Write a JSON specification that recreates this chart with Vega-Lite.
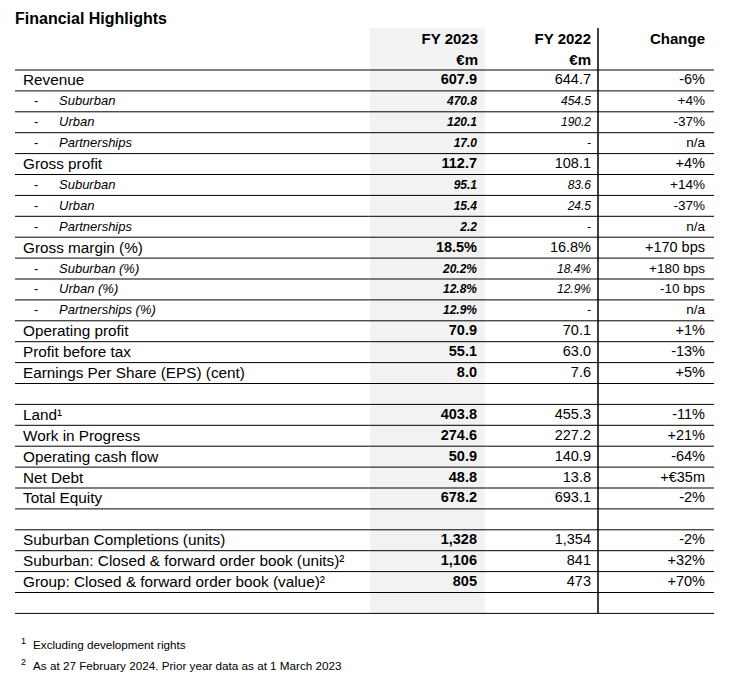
{
  "$schema": "https://vega.github.io/schema/vega-lite/v6.json",
  "padding": {"left": 14, "top": 7.3, "right": 22, "bottom": 5.9},
  "bounds": "flush",
  "background": "white",
  "config": {"view": {"stroke": null}, "text": {"font": "Liberation Sans", "color": "#000000", "baseline": "middle"}, "concat": {"spacing": 0}},
  "data": {"values": [
    {"r": 0, "t": "title", "label": "Financial Highlights"},
    {"r": 1, "t": "head", "v23": "FY 2023", "v22": "FY 2022", "chg": "Change"},
    {"r": 2, "t": "head", "v23": "€m", "v22": "€m", "chg": ""},
    {"r": 3, "t": "main", "label": "Revenue", "v23": "607.9", "v22": "644.7", "chg": "-6%"},
    {"r": 4, "t": "sub", "label": "Suburban", "v23": "470.8", "v22": "454.5", "chg": "+4%"},
    {"r": 5, "t": "sub", "label": "Urban", "v23": "120.1", "v22": "190.2", "chg": "-37%"},
    {"r": 6, "t": "sub", "label": "Partnerships", "v23": "17.0", "v22": "-", "chg": "n/a"},
    {"r": 7, "t": "main", "label": "Gross profit", "v23": "112.7", "v22": "108.1", "chg": "+4%"},
    {"r": 8, "t": "sub", "label": "Suburban", "v23": "95.1", "v22": "83.6", "chg": "+14%"},
    {"r": 9, "t": "sub", "label": "Urban", "v23": "15.4", "v22": "24.5", "chg": "-37%"},
    {"r": 10, "t": "sub", "label": "Partnerships", "v23": "2.2", "v22": "-", "chg": "n/a"},
    {"r": 11, "t": "main", "label": "Gross margin (%)", "v23": "18.5%", "v22": "16.8%", "chg": "+170 bps"},
    {"r": 12, "t": "sub", "label": "Suburban (%)", "v23": "20.2%", "v22": "18.4%", "chg": "+180 bps"},
    {"r": 13, "t": "sub", "label": "Urban (%)", "v23": "12.8%", "v22": "12.9%", "chg": "-10 bps"},
    {"r": 14, "t": "sub", "label": "Partnerships (%)", "v23": "12.9%", "v22": "-", "chg": "n/a"},
    {"r": 15, "t": "main", "label": "Operating profit", "v23": "70.9", "v22": "70.1", "chg": "+1%"},
    {"r": 16, "t": "main", "label": "Profit before tax", "v23": "55.1", "v22": "63.0", "chg": "-13%"},
    {"r": 17, "t": "main", "label": "Earnings Per Share (EPS) (cent)", "v23": "8.0", "v22": "7.6", "chg": "+5%"},
    {"r": 18, "t": "blank"},
    {"r": 19, "t": "main", "label": "Land¹", "v23": "403.8", "v22": "455.3", "chg": "-11%"},
    {"r": 20, "t": "main", "label": "Work in Progress", "v23": "274.6", "v22": "227.2", "chg": "+21%"},
    {"r": 21, "t": "main", "label": "Operating cash flow", "v23": "50.9", "v22": "140.9", "chg": "-64%"},
    {"r": 22, "t": "main", "label": "Net Debt", "v23": "48.8", "v22": "13.8", "chg": "+€35m"},
    {"r": 23, "t": "main", "label": "Total Equity", "v23": "678.2", "v22": "693.1", "chg": "-2%"},
    {"r": 24, "t": "blank"},
    {"r": 25, "t": "main", "label": "Suburban Completions (units)", "v23": "1,328", "v22": "1,354", "chg": "-2%"},
    {"r": 26, "t": "main", "label": "Suburban: Closed & forward order book (units)²", "v23": "1,106", "v22": "841", "chg": "+32%"},
    {"r": 27, "t": "main", "label": "Group: Closed & forward order book (value)²", "v23": "805", "v22": "473", "chg": "+70%"},
    {"r": 28, "t": "blank"},
    {"r": 29, "t": "gap"},
    {"r": 30, "t": "note", "sup": "1", "label": "Excluding development rights"},
    {"r": 31, "t": "note", "sup": "2", "label": "As at 27 February 2024. Prior year data as at 1 March 2023"}
  ]},
  "resolve": {"scale": {"y": "shared", "x": "independent"}},
  "spacing": 0,
  "hconcat": [
    {
      "width": 355, "height": 668.8,
      "encoding": {"y": {"field": "r", "type": "ordinal", "scale": {"type": "band", "domain": [0,1,2,3,4,5,6,7,8,9,10,11,12,13,14,15,16,17,18,19,20,21,22,23,24,25,26,27,28,29,30,31], "paddingInner": 0, "paddingOuter": 0}, "axis": null}},
      "layer": [
        {"transform": [{"filter": "datum.r >= 2 && datum.r <= 28"}], "mark": {"type": "rule", "color": "#000000", "strokeWidth": 1},
         "encoding": {"y": {"field": "r", "type": "ordinal", "bandPosition": 1}}},
        {"transform": [{"filter": "datum.t == 'title'"}], "mark": {"type": "text", "align": "left", "fontSize": 16, "fontWeight": "bold", "dy": 1},
         "encoding": {"x": {"datum": 0, "type": "quantitative", "scale": {"domain": [0, 1]}, "axis": null}, "text": {"field": "label"}}},
        {"transform": [{"filter": "datum.t == 'main'"}], "mark": {"type": "text", "align": "left", "fontSize": 15.3, "dx": 8},
         "encoding": {"x": {"datum": 0, "type": "quantitative"}, "text": {"field": "label"}}},
        {"transform": [{"filter": "datum.t == 'sub'"}], "mark": {"type": "text", "align": "left", "fontSize": 13, "dx": 19},
         "encoding": {"x": {"datum": 0, "type": "quantitative"}, "text": {"value": "-"}}},
        {"transform": [{"filter": "datum.t == 'sub'"}], "mark": {"type": "text", "align": "left", "fontSize": 13, "fontStyle": "italic", "dx": 44},
         "encoding": {"x": {"datum": 0, "type": "quantitative"}, "text": {"field": "label"}}},
        {"transform": [{"filter": "datum.t == 'note'"}], "mark": {"type": "text", "align": "left", "fontSize": 9, "dx": 6, "dy": -4},
         "encoding": {"x": {"datum": 0, "type": "quantitative"}, "text": {"field": "sup"}}},
        {"transform": [{"filter": "datum.t == 'note'"}], "mark": {"type": "text", "align": "left", "fontSize": 11.7, "dx": 18},
         "encoding": {"x": {"datum": 0, "type": "quantitative"}, "text": {"field": "label"}}}
      ]
    },
    {
      "width": 115, "height": 668.8,
      "encoding": {"y": {"field": "r", "type": "ordinal", "scale": {"type": "band", "paddingInner": 0, "paddingOuter": 0}, "axis": null}},
      "layer": [
        {"transform": [{"filter": "datum.r >= 1 && datum.r <= 28"}], "mark": {"type": "rect", "color": "#f2f2f2"},
         "encoding": {"y": {"field": "r", "type": "ordinal"}}},
        {"transform": [{"filter": "datum.r >= 2 && datum.r <= 28"}], "mark": {"type": "rule", "color": "#000000", "strokeWidth": 1},
         "encoding": {"y": {"field": "r", "type": "ordinal", "bandPosition": 1}}},
        {"transform": [{"filter": "datum.t == 'head'"}], "mark": {"type": "text", "align": "right", "fontSize": 15, "fontWeight": "bold", "dx": -7},
         "encoding": {"x": {"datum": 1, "type": "quantitative", "scale": {"domain": [0, 1]}, "axis": null}, "text": {"field": "v23"}}},
        {"transform": [{"filter": "datum.t == 'main'"}], "mark": {"type": "text", "align": "right", "fontSize": 14.5, "fontWeight": "bold", "dx": -8},
         "encoding": {"x": {"datum": 1, "type": "quantitative"}, "text": {"field": "v23"}}},
        {"transform": [{"filter": "datum.t == 'sub'"}], "mark": {"type": "text", "align": "right", "fontSize": 12, "fontWeight": "bold", "fontStyle": "italic", "dx": -8},
         "encoding": {"x": {"datum": 1, "type": "quantitative"}, "text": {"field": "v23"}}}
      ]
    },
    {
      "width": 113, "height": 668.8,
      "encoding": {"y": {"field": "r", "type": "ordinal", "scale": {"type": "band", "paddingInner": 0, "paddingOuter": 0}, "axis": null}},
      "layer": [
        {"transform": [{"filter": "datum.r >= 2 && datum.r <= 28"}], "mark": {"type": "rule", "color": "#000000", "strokeWidth": 1},
         "encoding": {"y": {"field": "r", "type": "ordinal", "bandPosition": 1}}},
        {"transform": [{"filter": "datum.t == 'head'"}], "mark": {"type": "text", "align": "right", "fontSize": 15, "fontWeight": "bold", "dx": -7},
         "encoding": {"x": {"datum": 1, "type": "quantitative", "scale": {"domain": [0, 1]}, "axis": null}, "text": {"field": "v22"}}},
        {"transform": [{"filter": "datum.t == 'main'"}], "mark": {"type": "text", "align": "right", "fontSize": 14.5, "dx": -7},
         "encoding": {"x": {"datum": 1, "type": "quantitative"}, "text": {"field": "v22"}}},
        {"transform": [{"filter": "datum.t == 'sub'"}], "mark": {"type": "text", "align": "right", "fontSize": 12, "fontStyle": "italic", "dx": -7},
         "encoding": {"x": {"datum": 1, "type": "quantitative"}, "text": {"field": "v22"}}}
      ]
    },
    {
      "width": 116, "height": 668.8,
      "encoding": {"y": {"field": "r", "type": "ordinal", "scale": {"type": "band", "paddingInner": 0, "paddingOuter": 0}, "axis": null}},
      "layer": [
        {"transform": [{"filter": "datum.r >= 2 && datum.r <= 28"}], "mark": {"type": "rule", "color": "#000000", "strokeWidth": 1},
         "encoding": {"y": {"field": "r", "type": "ordinal", "bandPosition": 1}}},
        {"transform": [{"filter": "datum.r >= 1 && datum.r <= 28"}], "mark": {"type": "rect", "fill": null, "stroke": "#000000", "strokeWidth": 1},
         "encoding": {"y": {"field": "r", "type": "ordinal"}, "x": {"datum": 0, "type": "quantitative", "scale": {"domain": [0, 1]}, "axis": null}, "x2": {"datum": 0}}},
        {"transform": [{"filter": "datum.t == 'head'"}], "mark": {"type": "text", "align": "right", "fontSize": 15, "fontWeight": "bold", "dx": -9},
         "encoding": {"x": {"datum": 1, "type": "quantitative"}, "text": {"field": "chg"}}},
        {"transform": [{"filter": "datum.t == 'main'"}], "mark": {"type": "text", "align": "right", "fontSize": 14.5, "dx": -9},
         "encoding": {"x": {"datum": 1, "type": "quantitative"}, "text": {"field": "chg"}}},
        {"transform": [{"filter": "datum.t == 'sub'"}], "mark": {"type": "text", "align": "right", "fontSize": 13.5, "dx": -9},
         "encoding": {"x": {"datum": 1, "type": "quantitative"}, "text": {"field": "chg"}}}
      ]
    }
  ]
}
